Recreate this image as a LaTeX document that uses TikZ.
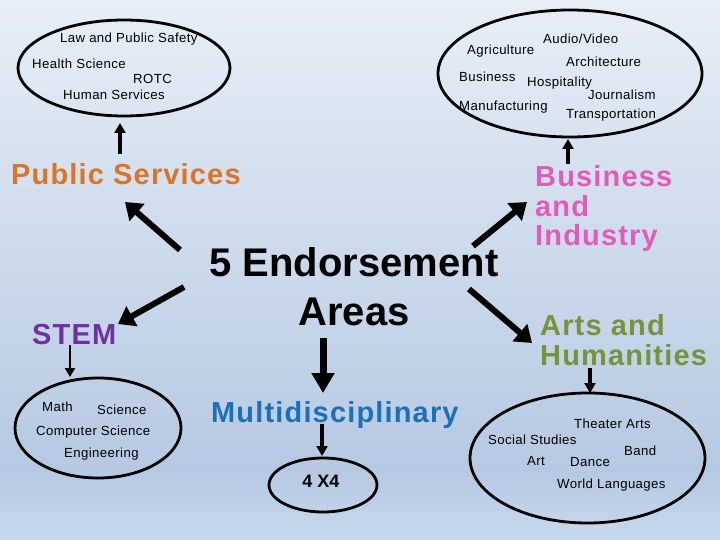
\documentclass[tikz,border=0pt]{standalone}
\usepackage{fontspec}
\setmainfont{Liberation Sans}
\newfontfamily\smallf[LetterSpace=3]{Liberation Sans}
\newfontfamily\bigf[LetterSpace=4]{Liberation Sans}
\usetikzlibrary{arrows.meta,shapes.geometric}
\definecolor{bgtop}{HTML}{E7EEF7}
\definecolor{bgmid}{HTML}{B6C9E2}
\definecolor{bgbot}{HTML}{C8D8EE}
\definecolor{psorange}{HTML}{DC7328}
\definecolor{bipink}{HTML}{E35AB8}
\definecolor{stempurple}{HTML}{7030A0}
\definecolor{ahgreen}{HTML}{77933C}
\definecolor{mdblue}{HTML}{1B70B8}
\tikzset{
  smalltxt/.style={font=\smallf\fontsize{13.2}{15}\selectfont, anchor=base west, inner sep=0pt},
  bigtxt/.style={font=\bigf\bfseries\fontsize{29}{30}\selectfont, anchor=base west, inner sep=0pt},
  hugetxt/.style={font=\bfseries\fontsize{40}{44}\selectfont, anchor=base, inner sep=0pt},
  oval/.style={ellipse, draw=black, line width=2.8pt, inner sep=0pt},
  fatarrow/.style={line width=6pt, -{Triangle[length=16pt,width=22pt]}},
  midarrow/.style={line width=3.5pt, -{Triangle[length=10pt,width=11pt]}},
  thinarrow/.style={line width=2.6pt, -{Triangle[length=9pt,width=10pt]}}
}
\begin{document}
\begin{tikzpicture}[x=1pt,y=-1pt]
\useasboundingbox (0,0) rectangle (720,540);
\shade[top color=bgtop, bottom color=bgmid] (0,0) rectangle (720,470);
\shade[top color=bgmid, bottom color=bgbot] (0,470) rectangle (720,540);

% ellipses
\node[oval, minimum width=212pt, minimum height=96pt] (pse) at (124,68) {};
\node[oval, minimum width=264pt, minimum height=127pt] (bie) at (570,73.5) {};
\node[oval, minimum width=166pt, minimum height=100pt] (steme) at (98,428) {};
\node[oval, minimum width=108pt, minimum height=54pt] (fxe) at (323,485) {};
\node[oval, minimum width=235pt, minimum height=130pt] (ahe) at (587.5,458) {};

% public services cluster
\node[smalltxt] (law) at (60,43) {Law and Public Safety};
\node[smalltxt] (hs) at (32,69) {Health Science};
\node[smalltxt] (rotc) at (133,84) {ROTC};
\node[smalltxt] (hum) at (63,100) {Human Services};

% business cluster
\node[smalltxt] (av) at (543,44) {Audio/Video};
\node[smalltxt] (agr) at (467,55) {Agriculture};
\node[smalltxt] (arch) at (566,67) {Architecture};
\node[smalltxt] (bus) at (459,82) {Business};
\node[smalltxt] (hosp) at (527,87) {Hospitality};
\node[smalltxt] (jour) at (588,100) {Journalism};
\node[smalltxt] (man) at (459,111) {Manufacturing};
\node[smalltxt] (tran) at (566,119) {Transportation};

% STEM cluster
\node[smalltxt] (math) at (42,411) {Math};
\node[smalltxt] (sci) at (97,414) {Science};
\node[smalltxt] (cs) at (36,435) {Computer Science};
\node[smalltxt] (eng) at (64,457) {Engineering};

% arts cluster
\node[smalltxt] (ta) at (574,428) {Theater Arts};
\node[smalltxt] (ss) at (488,444) {Social Studies};
\node[smalltxt] (band) at (624,455) {Band};
\node[smalltxt] (art) at (527,465) {Art};
\node[smalltxt] (dance) at (570,466) {Dance};
\node[smalltxt] (wl) at (557,488) {World Languages};

% 4X4
\node[font=\bfseries\fontsize{18}{20}\selectfont, anchor=base, inner sep=0pt] (fx) at (321,487) {4 X4};

% big labels
\node[bigtxt, text=psorange] (ps) at (11,185) {Public Services};
\node[bigtxt, text=bipink] (bi1) at (535,187) {Business};
\node[bigtxt, text=bipink] (bi2) at (535,216) {and};
\node[bigtxt, text=bipink] (bi3) at (535,245) {Industry};
\node[bigtxt, text=stempurple] (stem) at (32,344) {STEM};
\node[bigtxt, text=ahgreen] (ah1) at (540,335) {Arts and};
\node[bigtxt, text=ahgreen] (ah2) at (540,365) {Humanities};
\node[bigtxt, text=mdblue] (md) at (211,422) {Multidisciplinary};
\node[hugetxt] (e1) at (354,276) {5 Endorsement};
\node[hugetxt] (e2) at (354,325) {Areas};

% arrow end points
\coordinate (psA) at (180,250); \coordinate (psB) at (125,202);
\coordinate (stA) at (184,287); \coordinate (stB) at (118,324);
\coordinate (biA) at (473,246); \coordinate (biB) at (527,202);
\coordinate (ahA) at (469,289); \coordinate (ahB) at (532,343);
\coordinate (arA) at (323,338); \coordinate (arB) at (323,393);
\coordinate (mdA) at (322,424); \coordinate (mdB) at (322,456);
\coordinate (psU) at (120,154); \coordinate (psV) at (120,123);
\coordinate (biU) at (568,164); \coordinate (biV) at (568,139);
\coordinate (stU) at (70,345); \coordinate (stV) at (70,377);
\coordinate (ahU) at (590,368); \coordinate (ahV) at (590,393);

\draw[fatarrow] (psA) -- (psB);
\draw[fatarrow] (stA) -- (stB);
\draw[fatarrow] (biA) -- (biB);
\draw[fatarrow] (ahA) -- (ahB);
\draw[line width=7pt, -{Triangle[length=20pt,width=22pt]}] (arA) -- (arB);
\draw[midarrow] (mdA) -- (mdB);
\draw[midarrow] (psU) -- (psV);
\draw[midarrow] (biU) -- (biV);
\draw[thinarrow] (stU) -- (stV);
\draw[midarrow] (ahU) -- (ahV);
\end{tikzpicture}
\end{document}
